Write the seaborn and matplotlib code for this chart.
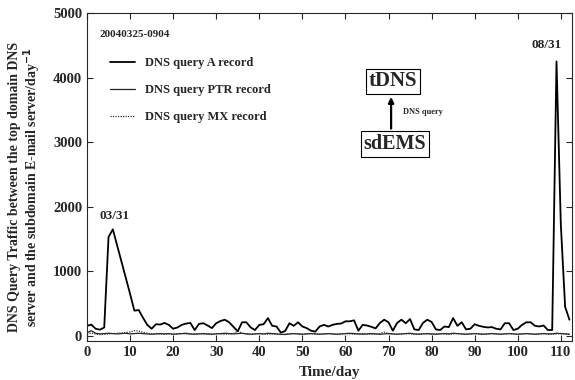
import matplotlib
matplotlib.use("Agg")
import matplotlib.pyplot as plt
import numpy as np
import pandas as pd
import seaborn as sns

# daily DNS query counts, day 0..112
a_record = [155, 175, 110, 95, 130, 1530, 1650, 1400, 1150, 900,
            650, 390, 400, 280, 170, 110, 180, 175, 200, 170,
            110, 130, 170, 190, 200, 90, 185, 195, 160, 120,
            195, 230, 250, 210, 140, 70, 210, 210, 130, 90,
            170, 180, 275, 155, 145, 50, 75, 195, 155, 210,
            145, 120, 80, 65, 145, 170, 145, 170, 185, 190,
            225, 225, 240, 80, 170, 160, 140, 115, 200, 250,
            210, 80, 200, 250, 195, 260, 100, 90, 200, 250,
            215, 100, 90, 145, 135, 275, 155, 210, 100, 110,
            180, 155, 140, 130, 135, 110, 100, 195, 195, 90,
            110, 170, 210, 210, 155, 145, 160, 90, 90, 4250,
            1730, 450, 250]
ptr_record = [50, 80, 40, 30, 35, 40, 35, 30, 35, 40,
              30, 35, 40, 35, 30, 25, 30, 35, 30, 35,
              25, 30, 35, 40, 30, 25, 30, 35, 30, 25,
              30, 35, 40, 35, 30, 35, 40, 30, 25, 30,
              35, 30, 40, 35, 30, 25, 20, 30, 35, 30,
              25, 30, 35, 30, 25, 30, 35, 30, 25, 30,
              35, 40, 35, 30, 25, 30, 35, 30, 25, 30,
              35, 30, 25, 30, 35, 40, 30, 25, 30, 35,
              30, 25, 30, 35, 30, 40, 35, 30, 25, 30,
              35, 30, 25, 30, 35, 30, 25, 30, 35, 30,
              25, 30, 35, 30, 25, 30, 35, 30, 30, 40,
              35, 30, 25]
mx_record = [30, 45, 25, 20, 25, 30, 35, 40, 45, 50,
             60, 80, 75, 55, 40, 30, 35, 30, 25, 30,
             25, 30, 35, 30, 25, 30, 35, 30, 25, 30,
             35, 30, 25, 30, 35, 75, 40, 30, 25, 30,
             35, 30, 25, 30, 25, 20, 25, 30, 35, 30,
             25, 30, 35, 30, 25, 30, 35, 30, 25, 30,
             35, 30, 25, 30, 35, 30, 25, 30, 35, 60,
             35, 30, 25, 30, 35, 30, 25, 30, 35, 30,
             25, 30, 35, 30, 25, 30, 35, 30, 25, 30,
             35, 30, 25, 30, 35, 30, 25, 30, 35, 30,
             25, 30, 35, 30, 25, 30, 35, 30, 25, 30,
             35, 30, 25]
days = np.arange(len(a_record))

series_names = ["DNS query A record", "DNS query PTR record", "DNS query MX record"]

df = pd.DataFrame({
    "day": np.concatenate([days, days, days]),
    "count": a_record + ptr_record + mx_record,
    "record": np.repeat(series_names, len(days)),
})

sns.set_style("ticks")
plt.rcParams["font.family"] = ["Liberation Serif", "DejaVu Serif"]
plt.rcParams["font.weight"] = "bold"

fig = plt.figure(figsize=(5.75, 3.8), dpi=100)
ax = fig.add_axes([0.1513, 0.1026, 0.8435, 0.8632])

sns.lineplot(data=df, x="day", y="count", hue="record", style="record",
             hue_order=series_names, style_order=series_names,
             palette=["black", "#222222", "#333333"],
             dashes=[(None, None), (None, None), (1, 1)],
             size="record", sizes=[1.3, 0.9, 0.9], size_order=series_names,
             ax=ax, legend=True)

ax.set_xlim(0, 112.6)
ax.set_ylim(-80, 5000)
ax.set_xticks(range(0, 111, 10))
ax.set_yticks(range(0, 5001, 1000))
ax.tick_params(direction="in", top=True, right=True, length=4, width=0.8,
               labelsize=10.5)
for lab in ax.get_xticklabels() + ax.get_yticklabels():
    lab.set_fontweight("bold")
for sp in ax.spines.values():
    sp.set_linewidth(0.8)

ax.set_xlabel("Time/day", fontsize=11, fontweight="bold", labelpad=5)
ax.set_ylabel("DNS Query Traffic between the top domain DNS\n"
              "server and the subdomain E-mail server/day$^{-1}$",
              fontsize=10, fontweight="bold", linespacing=1.05)
ax.yaxis.set_label_coords(-0.09, 0.47)

leg = ax.legend(loc="upper left", bbox_to_anchor=(0.047, 0.865), frameon=False,
                fontsize=9, handlelength=2.0, labelspacing=1.2,
                handletextpad=0.8, borderpad=0, borderaxespad=0)
for t in leg.get_texts():
    t.set_fontweight("bold")

ax.text(2.8, 4660, "20040325-0904", fontsize=8, fontweight="bold", va="center")
ax.text(6.3, 1860, "03/31", fontsize=9.5, fontweight="bold", ha="center", va="center")
ax.text(106.8, 4510, "08/31", fontsize=9.5, fontweight="bold", ha="center", va="center")

box = dict(boxstyle="square,pad=0.14", fc="white", ec="black", lw=0.8)
ax.text(71.0, 3940, "tDNS", fontsize=15, fontweight="bold", ha="center",
        va="center", bbox=box)
ax.text(71.5, 2970, "sdEMS", fontsize=14.5, fontweight="bold", ha="center",
        va="center", bbox=box)
ax.annotate("", xy=(70.6, 3700), xytext=(70.6, 3210),
            arrowprops=dict(arrowstyle="-|>", color="black", lw=1.6,
                            mutation_scale=8, shrinkA=0, shrinkB=0))
ax.text(73.3, 3470, "DNS query", fontsize=6, fontweight="bold", va="center")

fig.savefig("out.png", dpi=100)
